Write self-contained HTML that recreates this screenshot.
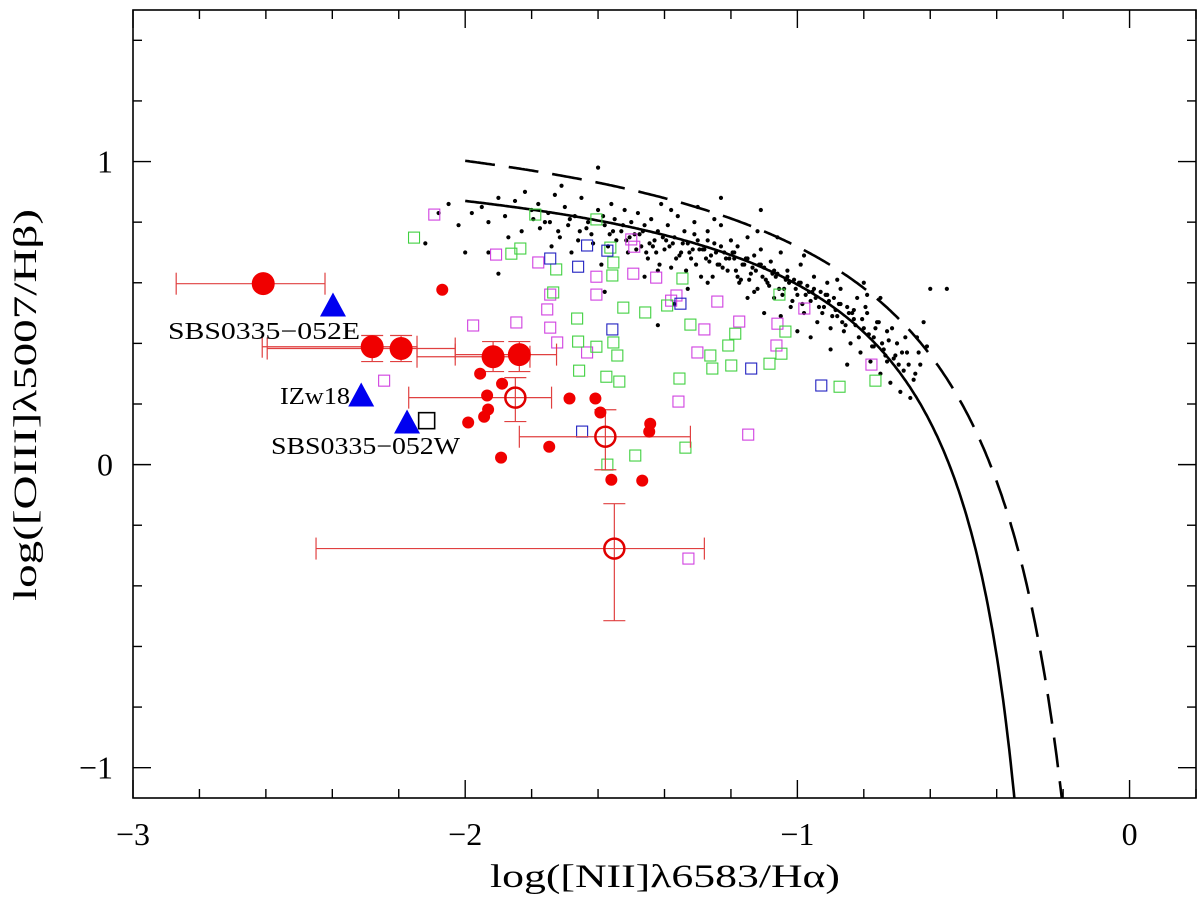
<!DOCTYPE html>
<html><head><meta charset="utf-8"><style>
html,body{margin:0;padding:0;background:#fff;}
svg{display:block;font-family:"Liberation Serif",serif;}
</style></head><body>
<svg id="chart" width="1200" height="898" viewBox="0 0 1200 898" xmlns="http://www.w3.org/2000/svg">
<g id="layer"></g>
</svg>
<script>
const xTicks=[-3,-2,-1,0];
const yTicks=[-1,0,1];
const xTickLabels=["\u22123","\u22122","\u22121","0"];
const yTickLabels=["\u22121","0","1"];
const magX=[-2.093,-1.907,-1.780,-1.605,-1.605,-1.744,-1.753,-1.744,-1.976,-1.846,-1.723,-1.633,-1.494,-1.425,-1.500,-1.491,-1.364,-1.380,-1.241,-1.280,-1.301,-1.175,-1.060,-1.063,-0.979,-0.777,-1.358,-1.148,-1.328,-2.244];
const magY=[0.825,0.693,0.667,0.620,0.561,0.561,0.512,0.452,0.459,0.469,0.403,0.370,0.630,0.617,0.743,0.719,0.558,0.541,0.538,0.446,0.370,0.472,0.465,0.393,0.515,0.330,0.208,0.099,-0.310,0.277];
const grnX=[-2.154,-1.861,-1.834,-1.726,-1.789,-1.563,-1.554,-1.557,-1.735,-1.663,-1.660,-1.605,-1.554,-1.542,-1.657,-1.575,-1.536,-1.524,-1.458,-1.392,-1.346,-1.322,-1.262,-1.256,-1.208,-1.199,-1.187,-1.084,-1.048,-1.036,-1.054,-1.355,-0.873,-0.765,-1.488,-1.337,-1.605,-1.572];
const grnY=[0.749,0.696,0.713,0.644,0.825,0.716,0.667,0.624,0.568,0.482,0.406,0.389,0.403,0.360,0.310,0.290,0.274,0.518,0.502,0.525,0.614,0.462,0.360,0.317,0.393,0.327,0.432,0.333,0.366,0.439,0.561,0.284,0.257,0.277,0.030,0.056,0.809,0.000];
const bluX=[-1.633,-1.572,-1.744,-1.660,-1.352,-1.557,-1.139,-0.928,-1.648];
const bluY=[0.723,0.706,0.680,0.653,0.531,0.446,0.317,0.261,0.109];
const dotX=[-2.05,-2.02,-1.98,-1.95,-1.93,-1.9,-1.88,-1.85,-1.83,-1.8,-1.82,-1.87,-2.08,-2.12,
-1.78,-1.76,-1.75,-1.73,-1.72,-1.7,-1.69,-1.67,-1.66,-1.65,-1.63,-1.62,-1.6,-1.6,-1.58,-1.57,-1.56,-1.55,-1.53,-1.52,-1.51,-1.5,-1.74,-1.68,-1.59,-1.71,
-1.49,-1.48,-1.47,-1.46,-1.45,-1.44,-1.43,-1.42,-1.41,-1.4,-1.39,-1.38,-1.37,-1.36,-1.35,-1.34,-1.33,-1.32,-1.31,-1.3,-1.29,-1.28,-1.27,-1.26,-1.25,-1.24,-1.23,-1.22,-1.21,-1.2,-1.46,-1.42,-1.33,-1.27,-1.38,-1.3,-1.25,
-1.19,-1.18,-1.17,-1.16,-1.15,-1.14,-1.13,-1.12,-1.11,-1.1,-1.09,-1.08,-1.07,-1.06,-1.05,-1.04,-1.03,-1.02,-1.01,-1.0,-0.99,-0.98,-0.97,-0.96,-0.95,-0.94,-0.93,-0.92,-0.91,-0.9,-1.15,-1.1,-1.05,-1.0,-0.96,-1.12,-1.06,-0.98,-1.18,-1.13,
-0.89,-0.88,-0.87,-0.86,-0.85,-0.84,-0.83,-0.82,-0.81,-0.8,-0.79,-0.78,-0.77,-0.76,-0.75,-0.74,-0.73,-0.72,-0.71,-0.7,-0.69,-0.68,-0.67,-0.66,-0.65,-0.64,-0.63,-0.62,-0.61,-0.6,-0.88,-0.8,-0.75,-0.85,-0.9,
-2.0,-1.93,-1.9,-1.58,-1.37,-1.42,-0.55,-1.23,-1.11,
-1.795,-1.775,-1.745,-1.715,-1.685,-1.655,-1.635,-1.615,-1.585,-1.565,-1.545,-1.525,-1.505,-1.485,-1.465,-1.445,-1.425,-1.405,-1.385,-1.365,-1.345,-1.325,-1.305,-1.285,-1.265,-1.245,-1.225,-1.205,-1.185,-1.165,-1.145,-1.125,-1.105,-1.085,-1.065,-1.045,-1.025,-1.005,-0.985,-0.965,-0.945,-0.925,-0.905,-0.885,-0.865,-0.845,-0.825,-0.805,-0.785,-0.765,-0.745,-0.725,-0.705,-0.685,-0.665,-0.645,
-1.555,-1.515,-1.475,-1.435,-1.395,-1.355,-1.315,-1.275,-1.235,-1.195,-1.155,-1.115,-1.075,-1.035,-0.995,-0.955,-0.915,-0.875,-0.835,-0.795,-0.755,-0.715,-0.675,-0.635,
-1.455,-1.415,-1.375,-1.335,-1.295,-1.255,-1.215,-1.175,-1.135,-1.095,-1.055,-1.015,-0.975,-0.935,-0.895,-0.855,-0.815,-0.775,-0.735,-0.695,
-1.31,-1.27,-1.23,-1.19,-1.15,-1.11,-1.07,-1.03,-0.99,-0.95,-0.91,-0.87,-0.83,-0.79,-0.77,-0.73];
const dotY=[0.86,0.79,0.83,0.85,0.80,0.88,0.82,0.87,0.77,0.84,0.90,0.75,0.83,0.73,
0.86,0.80,0.83,0.89,0.77,0.85,0.79,0.82,0.74,0.88,0.80,0.76,0.84,0.98,0.79,0.72,0.86,0.81,0.77,0.84,0.70,0.80,0.72,0.70,0.66,0.92,
0.76,0.83,0.72,0.79,0.68,0.81,0.74,0.77,0.86,0.71,0.79,0.65,0.75,0.82,0.70,0.77,0.73,0.68,0.80,0.74,0.62,0.71,0.77,0.69,0.73,0.66,0.79,0.70,0.64,0.74,0.62,0.64,0.58,0.60,0.84,0.85,0.81,
0.68,0.72,0.61,0.66,0.75,0.63,0.69,0.58,0.71,0.65,0.60,0.67,0.55,0.63,0.70,0.58,0.64,0.52,0.61,0.56,0.66,0.50,0.59,0.54,0.62,0.47,0.57,0.52,0.60,0.45,0.55,0.50,0.49,0.44,0.42,0.77,0.75,0.69,0.62,0.57,
0.55,0.49,0.58,0.44,0.52,0.40,0.48,0.55,0.37,0.45,0.50,0.34,0.42,0.47,0.30,0.38,0.44,0.27,0.35,0.40,0.24,0.31,0.37,0.22,0.28,0.42,0.33,0.47,0.39,0.58,0.61,0.60,0.55,0.33,0.38,
0.70,0.70,0.63,0.57,0.53,0.46,0.58,0.88,0.84,
0.81,0.78,0.80,0.75,0.81,0.77,0.78,0.73,0.82,0.76,0.74,0.79,0.75,0.71,0.77,0.73,0.70,0.75,0.72,0.68,0.73,0.70,0.66,0.71,0.67,0.70,0.65,0.68,0.64,0.66,0.61,0.64,0.62,0.59,0.62,0.56,0.60,0.58,0.53,0.57,0.55,0.50,0.54,0.51,0.47,0.50,0.46,0.48,0.43,0.45,0.40,0.41,0.36,0.37,0.33,0.30,
0.77,0.74,0.76,0.72,0.74,0.69,0.71,0.68,0.66,0.70,0.68,0.66,0.63,0.61,0.60,0.57,0.56,0.53,0.50,0.52,0.47,0.45,0.42,0.37,
0.70,0.66,0.73,0.64,0.71,0.62,0.68,0.60,0.65,0.61,0.58,0.54,0.56,0.52,0.49,0.46,0.42,0.39,0.36,0.33,
0.76,0.74,0.72,0.70,0.68,0.66,0.64,0.62,0.60,0.58,0.56,0.53,0.51,0.56,0.39,0.34];
const bigX=[-2.608,-2.280,-2.193,-1.916,-1.837];
const bigY=[0.597,0.389,0.383,0.356,0.363];
const bigXlo=[-2.870,-2.611,-2.596,-2.145,-2.030];
const bigXhi=[-2.422,-2.145,-2.030,-1.805,-1.725];
const bigYlo=[0.597,0.340,0.340,0.307,0.307];
const bigYhi=[0.597,0.426,0.426,0.406,0.406];
const openX=[-1.849,-1.578,-1.551];
const openY=[0.221,0.092,-0.277];
const openXlo=[-2.170,-1.837,-2.449];
const openXhi=[-1.740,-1.322,-1.280];
const openYlo=[0.142,-0.017,-0.515];
const openYhi=[0.287,0.181,-0.129];
const smX=[-2.069,-1.955,-1.889,-1.934,-1.686,-1.608,-1.593,-1.931,-1.943,-1.991,-1.443,-1.446,-1.747,-1.892,-1.560,-1.467];
const smY=[0.577,0.300,0.267,0.228,0.218,0.218,0.172,0.182,0.158,0.139,0.135,0.109,0.059,0.023,-0.050,-0.053];
const triX=[-2.398,-2.313,-2.175];
const triY=[0.525,0.228,0.139];
const triLabels=["SBS0335\u2212052E","IZw18","SBS0335\u2212052W"];

const L=133,R=1196,T=10,B=798;
const X0=-3,X1=0.2,Y0=-1.1,Y1=1.5;
function sx(v){return L+(v-X0)/(X1-X0)*(R-L);}
function sy(v){return B-(v-Y0)/(Y1-Y0)*(B-T);}
const NS="http://www.w3.org/2000/svg";
const g=document.getElementById('layer');
function mk(tag,attrs,parent){const e=document.createElementNS(NS,tag);for(const k in attrs)e.setAttribute(k,attrs[k]);(parent||g).appendChild(e);return e;}

let fr=mk('rect',{x:L,y:T,width:R-L,height:B-T,fill:'none',stroke:'#000','stroke-width':1.6});


for(let i=0;i<=16;i++){const v=-3+i*0.2;const px=sx(v);const major=Math.abs(v-Math.round(v))<1e-6;const len=major?18:9;
 let t=mk('line',{x1:px,y1:B,x2:px,y2:B-len,stroke:'#000','stroke-width':1.4});
 
 
 let t2=mk('line',{x1:px,y1:T,x2:px,y2:T+len,stroke:'#000','stroke-width':1.4});
 
 }
for(let i=0;i<=13;i++){const v=-1+i*0.2;const py=sy(v);if(py<T-1)continue;const major=Math.abs(v-Math.round(v))<1e-6;const len=major?18:9;
 let t=mk('line',{x1:L,y1:py,x2:L+len,y2:py,stroke:'#000','stroke-width':1.4});
 
 
 let t2=mk('line',{x1:R,y1:py,x2:R-len,y2:py,stroke:'#000','stroke-width':1.4});
 
 }
xTicks.forEach((v,i)=>{let t=mk('text',{x:sx(v),y:845,'text-anchor':'middle','font-size':32});t.textContent=xTickLabels[i];
 
 });
yTicks.forEach((v,i)=>{let t=mk('text',{x:113,y:sy(v)+11,'text-anchor':'end','font-size':32});t.textContent=yTickLabels[i];
 
 });
let xl=mk('text',{x:665,y:887,'text-anchor':'middle','font-size':33,textLength:350,lengthAdjust:'spacingAndGlyphs'});xl.textContent='log([NII]\u03bb6583/H\u03b1)';


let yl=mk('text',{x:0,y:0,'text-anchor':'middle','font-size':33,textLength:392,lengthAdjust:'spacingAndGlyphs',transform:'translate(36,405) rotate(-90)'});yl.textContent='log([OIII]\u03bb5007/H\u03b2)';



const defs=mk('defs',{});const cp=mk('clipPath',{id:'clip'},defs);mk('rect',{x:L,y:T,width:R-L,height:B-T},cp);
const pg=mk('g',{'clip-path':'url(#clip)'});



function curve(f,xa,xb){let d='';for(let i=0;i<=400;i++){const x=xa+(xb-xa)*i/400;const y=f(x);if(y<Y0-0.2)break;d+=(i?'L':'M')+sx(x).toFixed(1)+','+sy(y).toFixed(1);}return d;}
let dash=mk('path',{d:curve(x=>0.61/(x-0.05)+1.3,-2,0.0),fill:'none',stroke:'#000','stroke-width':2.6,'stroke-dasharray':'30,14'},pg);


let sol=mk('path',{d:curve(x=>0.434/(x+0.15)+1.1046,-2,-0.16),fill:'none',stroke:'#000','stroke-width':2.6},pg);



dotX.forEach((v,i)=>{let c=mk('circle',{cx:sx(v),cy:sy(dotY[i]),r:2.1,fill:'#000'},pg);
 
 });
function squares(xs,ys,col,name){xs.forEach((v,i)=>{let s=mk('rect',{x:sx(v)-5.5,y:sy(ys[i])-5.5,width:11,height:11,fill:'none',stroke:col,'stroke-width':1.1},pg);
 
 });}
squares(magX,magY,'#d040e0','magenta-square');
squares(grnX,grnY,'#40d040','green-square');
squares(bluX,bluY,'#2020c0','blue-square');

function errbar(x,y,xlo,xhi,ylo,yhi,name){const eg=mk('g',{stroke:'#e04040','stroke-width':1.2},pg);
 
 
 mk('line',{x1:sx(xlo),y1:sy(y),x2:sx(xhi),y2:sy(y)},eg);
 mk('line',{x1:sx(xlo),y1:sy(y)-11,x2:sx(xlo),y2:sy(y)+11},eg);
 mk('line',{x1:sx(xhi),y1:sy(y)-11,x2:sx(xhi),y2:sy(y)+11},eg);
 if(yhi!==ylo){mk('line',{x1:sx(x),y1:sy(ylo),x2:sx(x),y2:sy(yhi)},eg);
 mk('line',{x1:sx(x)-11,y1:sy(ylo),x2:sx(x)+11,y2:sy(ylo)},eg);
 mk('line',{x1:sx(x)-11,y1:sy(yhi),x2:sx(x)+11,y2:sy(yhi)},eg);}}
bigX.forEach((v,i)=>errbar(v,bigY[i],bigXlo[i],bigXhi[i],bigYlo[i],bigYhi[i],'big-point-errorbar'));
openX.forEach((v,i)=>errbar(v,openY[i],openXlo[i],openXhi[i],openYlo[i],openYhi[i],'open-point-errorbar'));
bigX.forEach((v,i)=>{let c=mk('circle',{cx:sx(v),cy:sy(bigY[i]),r:11.5,fill:'#f00000'},pg);
 
 });
openX.forEach((v,i)=>{let c=mk('circle',{cx:sx(v),cy:sy(openY[i]),r:10,fill:'none',stroke:'#e00000','stroke-width':2.5},pg);
 
 });
smX.forEach((v,i)=>{let c=mk('circle',{cx:sx(v),cy:sy(smY[i]),r:6,fill:'#f00000'},pg);
 
 });
triX.forEach((v,i)=>{const px=sx(v),py=sy(triY[i]);let t=mk('polygon',{points:`${px-13},${py+11} ${px+13},${py+11} ${px},${py-13}`,fill:'#0000f0'},pg);
 
 });
let bs=mk('rect',{x:sx(-2.116)-8,y:sy(0.145)-8,width:16,height:16,fill:'none',stroke:'#000','stroke-width':1.6},pg);


const labPos=[[168,339,192],[280,404,70],[271,454,189]];
triLabels.forEach((s,i)=>{let t=mk('text',{x:labPos[i][0],y:labPos[i][1],'font-size':24,textLength:labPos[i][2],lengthAdjust:'spacingAndGlyphs'},pg);t.textContent=s;
 
 });
</script>
</body></html>
